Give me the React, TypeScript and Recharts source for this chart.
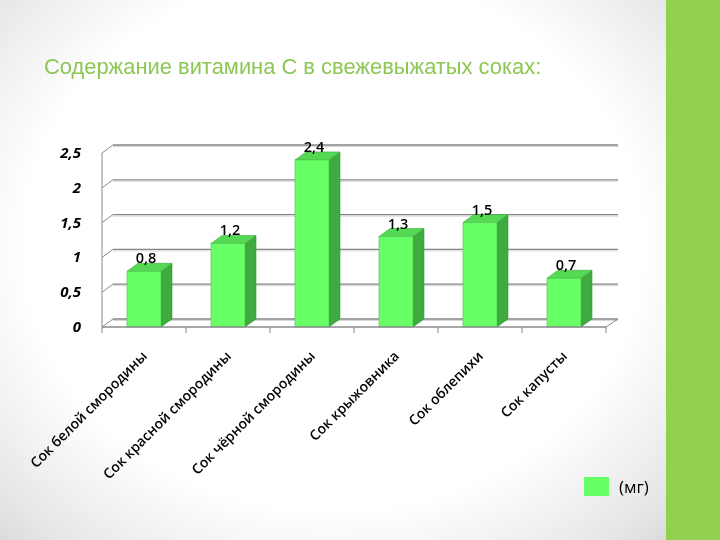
import React from "react"
import { BarChart, Bar, XAxis, YAxis, CartesianGrid, LabelList } from "recharts"

// juices and vitamin C content (mg)
const categories = [
  "Сок белой смородины",
  "Сок красной смородины",
  "Сок чёрной смородины",
  "Сок крыжовника",
  "Сок облепихи",
  "Сок капусты",
]
const values = [0.8, 1.2, 2.4, 1.3, 1.5, 0.7]
const yTicks = [0, 0.5, 1, 1.5, 2, 2.5]
const seriesName = "(мг)"

const data = categories.map((name, i) => ({ name, value: values[i] }))

// depth of the 3d effect
const DX = 11
const DY = 8

const fmt = (v: number) => String(v).replace(".", ",")

function Bar3D(props: any) {
  const { x, y, width: w, height: h } = props
  if (h == null || w == null) return null
  const top = `${x},${y} ${x + DX},${y - DY} ${x + w + DX},${y - DY} ${x + w},${y}`
  const side = `${x + w},${y} ${x + w + DX},${y - DY} ${x + w + DX},${y + h - DY} ${x + w},${y + h}`
  return (
    <g>
      <polygon points={side} fill="#3faa3f" stroke="#389838" strokeWidth={0.6} />
      <polygon points={top} fill="#55d955" stroke="#3fa83f" strokeWidth={0.6} />
      <rect x={x} y={y} width={w} height={h} fill="#66ff66" stroke="#4cc44c" strokeWidth={0.6} />
    </g>
  )
}

function GridLine(props: any) {
  const { x1, x2, y1 } = props
  const isFloor = Math.abs(y1 - 327) < 3
  const step = (x2 - x1) / categories.length
  return (
    <g>
      <line x1={x1} y1={y1} x2={x1 + DX} y2={y1 - DY} stroke="#8a8a8a" strokeWidth={1} />
      <line x1={x1 + DX} y1={y1 - DY} x2={x2 + DX + 1} y2={y1 - DY} stroke="#858585" strokeWidth={1.3} />
      <line x1={x1 + DX} y1={y1 - DY + 1.5} x2={x2 + DX + 1} y2={y1 - DY + 1.5} stroke="#d6d6d6" strokeWidth={1} />
      {isFloor && (
        <g>
          <line x1={x2} y1={y1} x2={x2 + DX + 1} y2={y1 - DY} stroke="#8a8a8a" strokeWidth={1} />
          {categories.map((_, i) => (
            <line key={i} x1={x1 + step * (i + 1)} y1={y1} x2={x1 + step * (i + 1)} y2={y1 + 6} stroke="#8a8a8a" strokeWidth={1} />
          ))}
          <line x1={x1} y1={y1} x2={x1} y2={y1 + 6} stroke="#8a8a8a" strokeWidth={1} />
        </g>
      )}
    </g>
  )
}

function XTick(props: any) {
  const { x, y, payload } = props
  return (
    <text
      x={0}
      y={0}
      transform={`translate(${x + 4},${y + 23}) rotate(-45)`}
      textAnchor="end"
      fontFamily="Open Sans"
      fontWeight={600}
      fontSize={14}
      fill="#000"
    >
      {payload.value}
    </text>
  )
}

function YTick(props: any) {
  const { x, y, payload } = props
  return (
    <text
      x={x}
      y={y + 5}
      textAnchor="end"
      fontFamily="Open Sans"
      fontWeight={700}
      fontStyle="italic"
      fontSize={15}
      fill="#000"
    >
      {fmt(payload.value)}
    </text>
  )
}

function ValueLabel(props: any) {
  const { x, y, width, value } = props
  return (
    <text
      x={x + width / 2 + 2}
      y={y - 8}
      textAnchor="middle"
      fontFamily="Open Sans"
      fontWeight={600}
      fontSize={14.5}
      fill="#000"
    >
      {fmt(value)}
    </text>
  )
}

export default function App() {
  return (
    <div style={{ position: "fixed", left: 0, top: 0, width: 720, height: 540, overflow: "hidden" }}>
      <div
        style={{
          position: "absolute",
          left: 0,
          top: 0,
          width: 666,
          height: 540,
          background: "radial-gradient(ellipse 75% 80% at 50% 45%, #ffffff 62%, #e6e6e6 88%, #d4d4d4 100%)",
        }}
      />
      <div style={{ position: "absolute", left: 666, top: 0, width: 54, height: 540, background: "#92d050" }} />
      <div
        style={{
          position: "absolute",
          left: 44,
          top: 56,
          lineHeight: "22px",
          fontFamily: "Liberation Sans",
          fontSize: 21.9,
          color: "#8cc653",
          whiteSpace: "nowrap",
        }}
      >
        Содержание витамина С в свежевыжатых соках:
      </div>
      <div style={{ position: "absolute", left: 0, top: 0 }}>
        <BarChart width={720} height={540} data={data} margin={{ top: 153, right: 114, left: 0, bottom: 0 }} barSize={34}>
          <CartesianGrid vertical={false} horizontal={(p: any) => <GridLine key={p.key ?? p.index} {...p} />} />
          <XAxis
            dataKey="name"
            height={213}
            interval={0}
            tick={<XTick />}
            axisLine={{ stroke: "#8a8a8a", strokeWidth: 1.3 }}
            tickLine={false}
            tickSize={5}
          />
          <YAxis
            width={102}
            domain={[0, 2.5]}
            ticks={yTicks}
            tick={<YTick />}
            tickLine={false}
            tickMargin={15}
            axisLine={{ stroke: "#8a8a8a", strokeWidth: 1 }}
          />
          <Bar dataKey="value" name={seriesName} shape={<Bar3D />} isAnimationActive={false}>
            <LabelList dataKey="value" content={<ValueLabel />} />
          </Bar>
        </BarChart>
      </div>
      <div style={{ position: "absolute", left: 584, top: 477, display: "flex", alignItems: "center" }}>
        <div style={{ width: 25, height: 19, background: "#66ff66" }} />
        <span style={{ marginLeft: 10, fontFamily: "Open Sans", fontSize: 17, color: "#000", lineHeight: "19px" }}>
          {seriesName}
        </span>
      </div>
    </div>
  )
}
